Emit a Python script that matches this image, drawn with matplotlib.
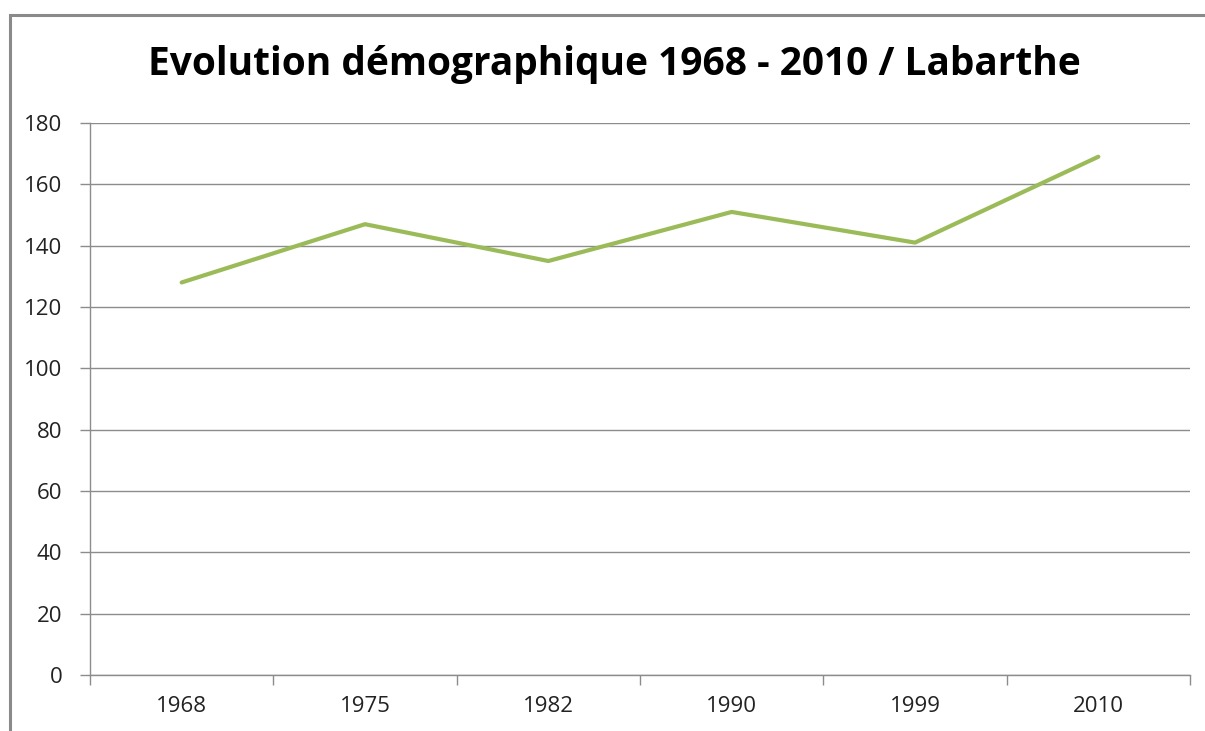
import matplotlib
matplotlib.use("Agg")
import matplotlib.pyplot as plt
from matplotlib.patches import Rectangle
import numpy as np

years = ["1968", "1975", "1982", "1990", "1999", "2010"]
population = [128, 147, 135, 151, 141, 169]
y_ticks = [0, 20, 40, 60, 80, 100, 120, 140, 160, 180]
title = "Evolution démographique 1968 - 2010 / Labarthe"

plt.rcParams["font.family"] = ["Open Sans", "DejaVu Sans"]
grid_c = "#8c8c8c"

fig = plt.figure(figsize=(12.05, 7.31), dpi=100)
# outer chart frame (right and bottom edges cut off in the original)
fig.patches.append(Rectangle((10 / 1205, -0.1), 1.2, (731 - 15) / 731 + 0.1,
                             transform=fig.transFigure, fill=False,
                             edgecolor="#8a8a8a", lw=2.2))

ax = fig.add_axes([90 / 1205, 56 / 731, 1100 / 1205, 552 / 731])
x = np.arange(len(years))
ax.plot(x, population, color="#9bbb59", lw=3, solid_capstyle="round", zorder=3)

ax.set_xlim(-0.5, len(years) - 0.5)
ax.set_ylim(0, 180)
ax.set_yticks(y_ticks)
ax.set_yticklabels([str(v) for v in y_ticks])
ax.yaxis.grid(True, color=grid_c, lw=1)
ax.set_axisbelow(True)

ax.set_xticks(np.arange(-0.5, len(years)), minor=False)
ax.set_xticklabels([""] * (len(years) + 1))
ax.set_xticks(x, minor=True)
ax.set_xticklabels(years, minor=True)
ax.tick_params(axis="x", which="major", length=7, color=grid_c, width=1)
ax.tick_params(axis="x", which="minor", length=0, pad=15, labelsize=16,
               labelcolor="#222222")
ax.tick_params(axis="y", length=7, color=grid_c, width=1, pad=13,
               labelsize=16, labelcolor="#222222")

for s in ["top", "right"]:
    ax.spines[s].set_visible(False)
for s in ["left", "bottom"]:
    ax.spines[s].set_color(grid_c)
    ax.spines[s].set_linewidth(1)

fig.text(614 / 1205, 1 - 65 / 731, title, ha="center", va="center",
         fontsize=28, fontweight="bold", color="black")

fig.savefig("out.png", dpi=100)
